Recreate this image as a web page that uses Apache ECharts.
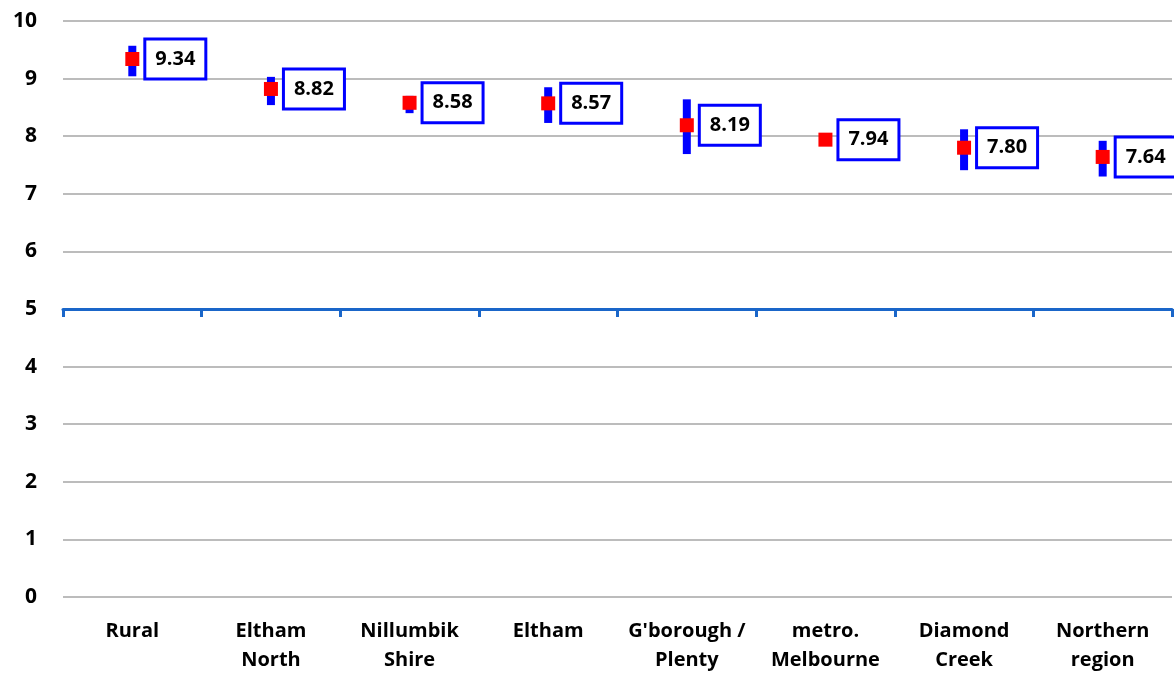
<!DOCTYPE html>
<html><head><meta charset="utf-8">
<script src="https://cdn.jsdelivr.net/npm/echarts@6/dist/echarts.min.js"></script>
<style>html,body{margin:0;padding:0;background:#fff}#c{width:1174px;height:673px}</style>
</head><body><div id="c"></div>
<script>
const categories = ['Rural','Eltham\nNorth','Nillumbik\nShire','Eltham',"G'borough /\nPlenty",'metro.\nMelbourne','Diamond\nCreek','Northern\nregion'];
const means = [9.34, 8.82, 8.58, 8.57, 8.19, 7.94, 7.80, 7.64];
const lows  = [9.04, 8.54, 8.40, 8.23, 7.69, 7.87, 7.41, 7.30];
const highs = [9.57, 9.03, 8.70, 8.85, 8.64, 8.02, 8.12, 7.92];
const yTicks = [0,1,2,3,4,5,6,7,8,9,10];

const FONT = '"Open Sans", sans-serif';
const chart = echarts.init(document.getElementById('c'), null, {renderer:'canvas'});
chart.setOption({
  animation:false,
  grid:[
    {left:63, top:21, width:1109, height:576, containLabel:false, outerBoundsMode:'none'},
    {left:63, top:300, width:1109, height:9, containLabel:false, outerBoundsMode:'none'}
  ],
  xAxis:[
    {type:'category', data:categories, gridIndex:0,
     axisLine:{show:false}, axisTick:{show:false},
     axisLabel:{interval:0, margin:20, color:'#000', fontFamily:FONT, fontWeight:'bold', fontSize:20, lineHeight:29}},
    {type:'category', data:categories, gridIndex:1, position:'bottom',
     axisLine:{show:true, lineStyle:{color:'#1a66c9', width:3}},
     axisTick:{show:true, length:8, lineStyle:{color:'#1a66c9', width:3}},
     axisLabel:{show:false}}
  ],
  yAxis:[
    {type:'value', min:yTicks[0], max:yTicks[yTicks.length-1], interval:1, gridIndex:0,
     axisLine:{show:false}, axisTick:{show:false},
     splitLine:{lineStyle:{color:'#a6a6a6', width:1.5}},
     axisLabel:{margin:26, color:'#000', fontFamily:FONT, fontWeight:'bold', fontSize:21}},
    {type:'value', gridIndex:1, show:false}
  ],
  series:[
    {type:'custom', xAxisIndex:0, yAxisIndex:0, z:3,
     data: categories.map((c,i)=>[i, lows[i], highs[i]]),
     renderItem:function(params, api){
       const lo = api.coord([api.value(0), api.value(1)]);
       const hi = api.coord([api.value(0), api.value(2)]);
       return {type:'rect', shape:{x:lo[0]-4, y:hi[1], width:8, height:lo[1]-hi[1]},
               style:{fill:'#0000ff'}};
     }},
    {type:'scatter', xAxisIndex:0, yAxisIndex:0, z:4,
     data: means, symbol:'rect', symbolSize:14,
     itemStyle:{color:'#ff0000', opacity:1},
     emphasis:{disabled:true},
     label:{show:true, position:'right', distance:7,
       formatter:p=>p.value.toFixed(2),
       color:'#000', fontFamily:FONT, fontWeight:'bold', fontSize:20, lineHeight:23,
       backgroundColor:'#fff', borderColor:'#0000ff', borderWidth:3,
       padding:[7,9,7,9]}}
  ]
});
</script></body></html>
